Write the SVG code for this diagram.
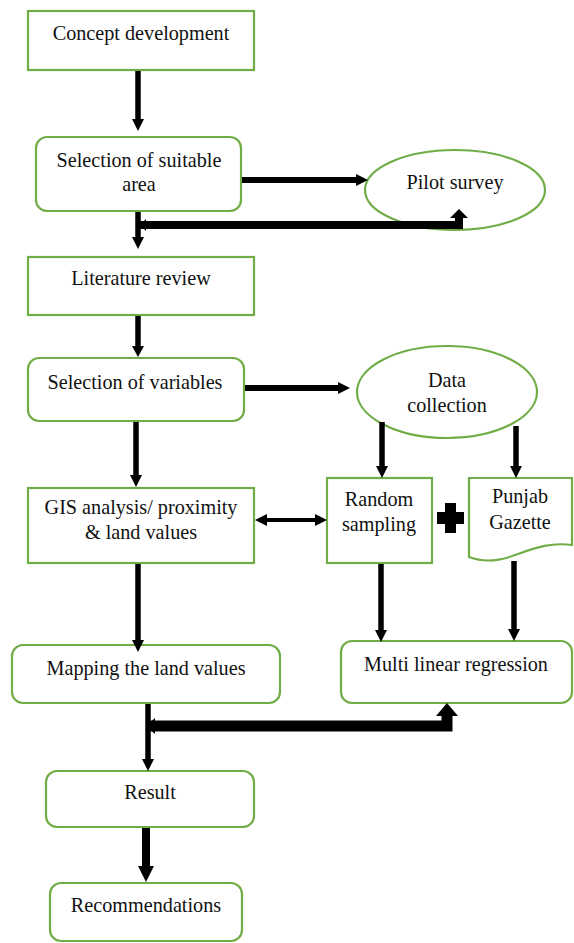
<svg xmlns="http://www.w3.org/2000/svg" width="574" height="943" viewBox="0 0 574 943">
<style>
.box{fill:#fff;stroke:#70AD47;stroke-width:2.2}
.t{font-family:'Liberation Serif','DejaVu Serif','Times New Roman',serif;font-size:20.2px;fill:#111;text-anchor:middle}
.sh{stroke:#000;fill:none}
.hd{fill:#000}
</style>
<rect width="574" height="943" fill="#fff"/>
<g id="concept"><rect class="box" x="28" y="11" width="226" height="59"/><text class="t" x="141" y="40">Concept development</text></g>
<g id="suitable-area"><rect class="box" x="36" y="137" width="205" height="74" rx="11"/><text class="t" x="139" y="167">Selection of suitable</text><text class="t" x="139" y="191">area</text></g>
<g id="pilot-survey"><ellipse class="box" cx="455" cy="190" rx="90" ry="40"/><text class="t" x="455" y="189">Pilot survey</text></g>
<g id="literature"><rect class="box" x="28" y="257" width="226" height="58"/><text class="t" x="141" y="285">Literature review</text></g>
<g id="variables"><rect class="box" x="28" y="358" width="216" height="63" rx="11"/><text class="t" x="135" y="389">Selection of variables</text></g>
<g id="data-collection"><ellipse class="box" cx="447" cy="392" rx="90" ry="46"/><text class="t" x="447" y="387">Data</text><text class="t" x="447" y="412">collection</text></g>
<g id="gis"><rect class="box" x="28" y="488" width="226" height="75"/><text class="t" x="141" y="514">GIS analysis/ proximity</text><text class="t" x="141" y="539">&amp; land values</text></g>
<g id="random-sampling"><rect class="box" x="327" y="478" width="105" height="85"/><text class="t" x="379" y="506">Random</text><text class="t" x="379" y="531">sampling</text></g>
<g id="punjab-gazette"><path class="box" d="M469,478 H572 V545 C550,542 535,548 515,555 C497,562 482,562 469,557 Z"/><text class="t" x="520" y="503">Punjab</text><text class="t" x="520" y="529">Gazette</text></g>
<g id="mapping"><rect class="box" x="12" y="645" width="268" height="58" rx="11"/><text class="t" x="146" y="675">Mapping the land values</text></g>
<g id="mlr"><rect class="box" x="341" y="641" width="231" height="62" rx="11"/><text class="t" x="456" y="671">Multi linear regression</text></g>
<g id="result"><rect class="box" x="46" y="771" width="208" height="56" rx="11"/><text class="t" x="150" y="799">Result</text></g>
<g id="recommendations"><rect class="box" x="50" y="883" width="192" height="58" rx="11"/><text class="t" x="146" y="912">Recommendations</text></g>
<g id="connectors">
<line class="sh" x1="138" y1="71" x2="138" y2="120" stroke-width="5.5"/>
<polygon class="hd" points="132,119 144,119 138,131"/>
<line class="sh" x1="138" y1="212" x2="138" y2="238" stroke-width="5.5"/>
<polygon class="hd" points="132,237 144,237 138,249"/>
<line class="sh" x1="138" y1="316" x2="138" y2="347" stroke-width="5.5"/>
<polygon class="hd" points="132,346 144,346 138,357"/>
<line class="sh" x1="136" y1="422" x2="136" y2="476" stroke-width="5.5"/>
<polygon class="hd" points="130,475 142,475 136,487"/>
<line class="sh" x1="138" y1="564" x2="138" y2="641" stroke-width="5.5"/>
<polygon class="hd" points="132,640 144,640 138,652"/>
<line class="sh" x1="148" y1="704" x2="148" y2="760" stroke-width="5.5"/>
<polygon class="hd" points="142,759 154,759 148,771"/>
<line class="sh" x1="146" y1="828" x2="146" y2="867" stroke-width="8"/>
<polygon class="hd" points="138,866 154,866 146,882"/>
<line class="sh" x1="242" y1="180" x2="357" y2="180" stroke-width="6"/>
<polygon class="hd" points="356,174 356,186 368,180"/>
<polyline class="sh" points="138,225 459,225 459,217" stroke-width="8"/>
<polygon class="hd" points="450,218 468,218 459,209"/>
<polygon class="hd" points="140,225 146,219 146,231"/>
<line class="sh" x1="245" y1="388" x2="339" y2="388" stroke-width="6"/>
<polygon class="hd" points="338,382 338,394 350,388"/>
<line class="sh" x1="382" y1="422" x2="382" y2="467" stroke-width="5.5"/>
<polygon class="hd" points="376,466 388,466 382,478"/>
<line class="sh" x1="516" y1="426" x2="516" y2="467" stroke-width="5.5"/>
<polygon class="hd" points="510,466 522,466 516,478"/>
<line class="sh" x1="265" y1="520" x2="316" y2="520" stroke-width="4"/>
<polygon class="hd" points="255,520 267,514 267,526"/>
<polygon class="hd" points="327,520 315,514 315,526"/>
<line class="sh" x1="381" y1="564" x2="381" y2="631" stroke-width="5.5"/>
<polygon class="hd" points="375,630 387,630 381,642"/>
<line class="sh" x1="514" y1="561" x2="514" y2="630" stroke-width="5.5"/>
<polygon class="hd" points="508,629 520,629 514,641"/>
<polyline class="sh" points="150,726 447,726 447,715" stroke-width="11"/>
<polygon class="hd" points="436,716 458,716 447,703"/>
<polygon class="hd" points="146,726 155,718 155,734"/>
<rect class="hd" x="437" y="512" width="27" height="12"/>
<rect class="hd" x="445" y="503" width="11" height="30"/>
</g>
</svg>
